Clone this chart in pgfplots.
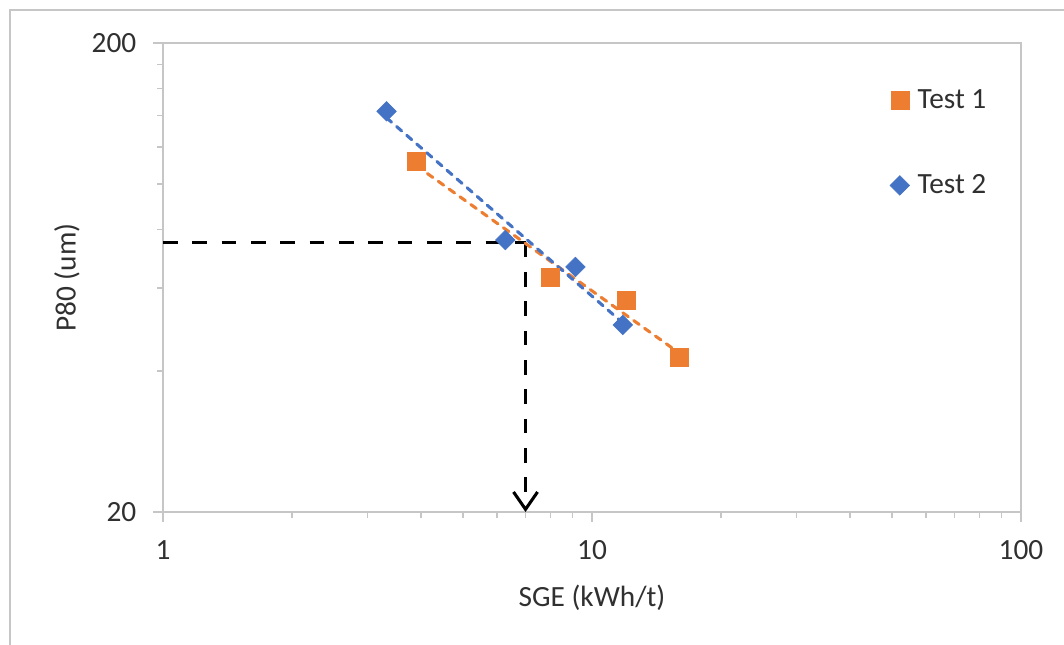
\documentclass[border=0pt]{standalone}
\usepackage{pgfplots}
\pgfplotsset{compat=1.18}
\usepackage{fontspec}
\setmainfont{Carlito}
\usetikzlibrary{arrows.meta}
\definecolor{tOrange}{HTML}{ED7D31}
\definecolor{tBlue}{HTML}{4472C4}
\definecolor{axgray}{HTML}{C6C6C6}
\definecolor{txt}{HTML}{303030}
\begin{document}
\begin{tikzpicture}
\path[use as bounding box] (-122.25pt,-99.75pt) rectangle (675.75pt,384pt);
\draw[axgray, line width=1.5pt] (-114.75pt,-110pt) -- (-114.75pt,376.5pt) -- (690pt,376.5pt);
\begin{axis}[
  at={(0,0)}, anchor=south west,
  scale only axis, width=643.5pt, height=351.75pt,
  xmode=log, ymode=log,
  xmin=1, xmax=100, ymin=20, ymax=200,
  xtick={1,10,100}, xticklabels={1,10,100},
  ytick={20,200}, yticklabels={20,200},
  minor xtick={2,3,4,5,6,7,8,9,20,30,40,50,60,70,80,90},
  minor ytick={40,60,80,100,120,140,160,180},
  xtick pos=bottom, ytick pos=left,
  tick align=outside,
  major tick length=7.5pt, minor tick length=4.5pt,
  every tick/.style={axgray, line width=1.2pt},
  axis line style={axgray, line width=1.5pt},
  ticklabel style={font=\fontsize{22}{26}\selectfont, text=txt},
  xticklabel style={yshift=-10.5pt},
  yticklabel style={xshift=-9pt},
  /pgf/number format/assume math mode=true,
  xlabel={SGE (kWh/t)}, ylabel={P80 (um)},
  every axis x label/.style={at={(axis description cs:0.5,-0.1834)}, anchor=center, font=\fontsize{22}{26}\selectfont, text=txt},
  every axis y label/.style={at={(axis description cs:-0.1119,0.5)}, anchor=center, rotate=90, font=\fontsize{22}{26}\selectfont, text=txt},
  clip=false,
  legend style={at={(axis description cs:0.847,0.906)}, anchor=north west, draw=none, fill=none,
    font=\fontsize{22}{26}\selectfont, text=txt, row sep=44pt, column sep=4pt, inner sep=0pt},
  legend cell align=left,
  legend image code/.code={\draw[#1] plot coordinates {(0pt,0pt)};},
]
% reading lines
\addplot[forget plot, black, line width=2.3pt, dash pattern=on 11pt off 11pt] coordinates {(1,75) (7,75)};
\addplot[forget plot, black, line width=2.3pt, dash pattern=on 11pt off 11pt, -{Straight Barb[length=13pt, width=18pt, line width=2.3pt]}] coordinates {(7,75) (7,20)};
% data
\addplot[only marks, mark=square*, mark size=6.75pt, color=tOrange] coordinates {(3.9,112) (8,63.4) (12,56.6) (16,42.8)};
\addlegendentry{Test 1}
\addplot[only marks, mark=square*, mark size=5.2pt, mark options={rotate=45}, color=tBlue] coordinates {(3.32,143) (6.28,76) (9.15,66.6) (11.8,50.1)};
\addlegendentry{Test 2}
% power trendlines
\addplot[forget plot, tOrange, line width=2.3pt, line cap=round, dash pattern=on 5pt off 5pt] coordinates {(3.9,109.4) (16,43.6)};
\addplot[forget plot, tBlue, line width=2.3pt, line cap=round, dash pattern=on 5pt off 5pt] coordinates {(3.32,138.5) (11.8,50.6)};
\end{axis}
\end{tikzpicture}
\end{document}
